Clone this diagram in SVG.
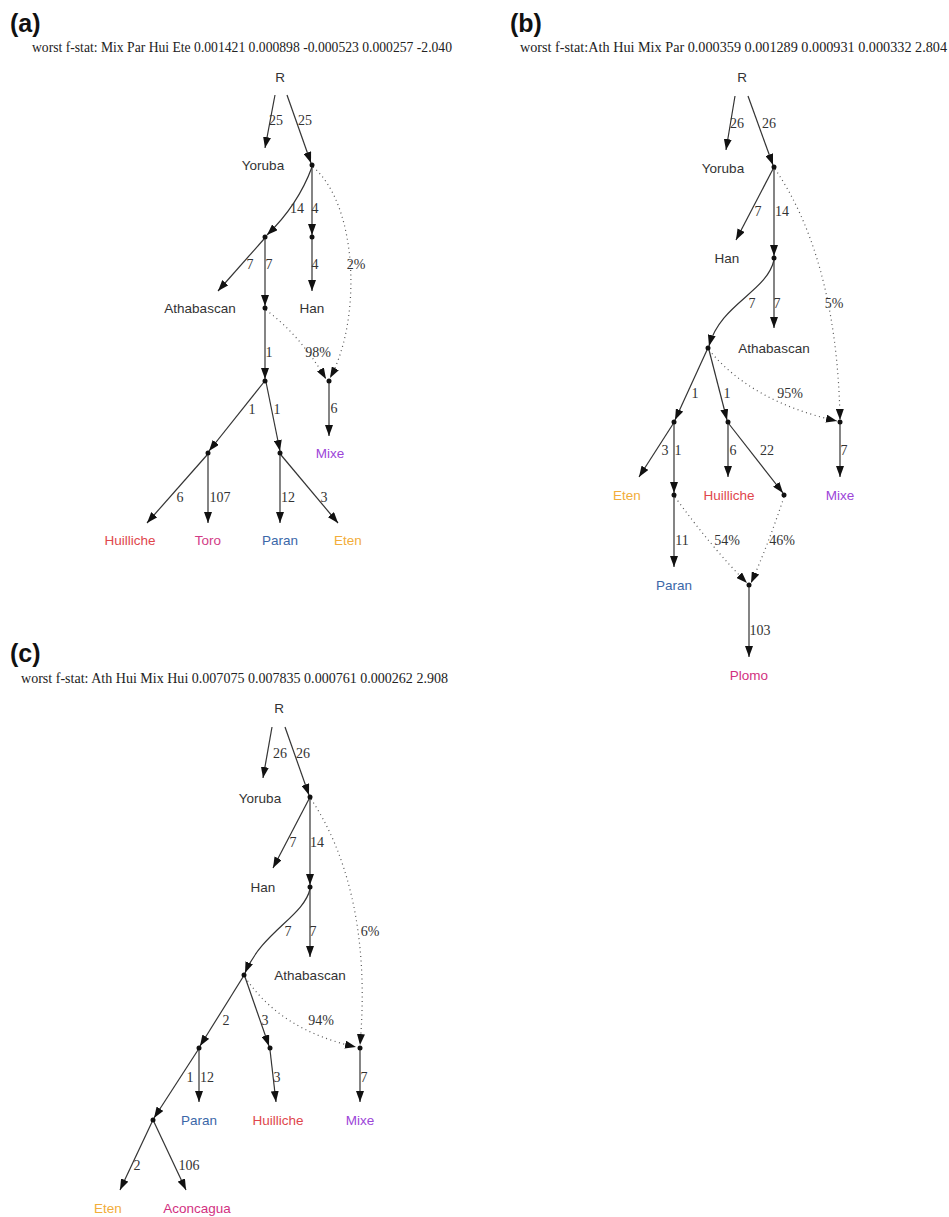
<svg xmlns="http://www.w3.org/2000/svg" width="949" height="1217" viewBox="0 0 949 1217">
<style>
.hd{font-family:"Liberation Sans",Arial,sans-serif;font-weight:bold;font-size:25px;fill:#111}
.st14{font-family:"Liberation Serif","Times New Roman",serif;font-size:14px;fill:#222}
.nl{font-family:"Liberation Sans",Arial,sans-serif;font-size:13.5px;fill:#333;text-anchor:middle}
.el{font-family:"Liberation Serif","Times New Roman",serif;font-size:14px;fill:#333;text-anchor:middle}
.e{fill:none;stroke:#333;stroke-width:1.2;marker-end:url(#ah)}
.d{fill:none;stroke:#555;stroke-width:1.2;stroke-dasharray:1 3.5;marker-end:url(#ah)}
.dot{fill:#111}
.hui{fill:#e0464c}.toro{fill:#d23c86}.par{fill:#3a67a8}.eten{fill:#f2ad3a}.mixe{fill:#9c45d8}.plomo{fill:#d2317f}
</style>
<defs>
<marker id="ah" viewBox="0 0 11 8" refX="11" refY="4" markerWidth="11" markerHeight="8" markerUnits="userSpaceOnUse" orient="auto">
<path d="M0,0L11,4L0,8z" fill="#111"/>
</marker>
</defs>
<rect width="949" height="1217" fill="#fff"/>

<!-- ================= Panel (a) ================= -->
<g id="panel-a-title">
<text class="hd" x="10" y="32">(a)</text>
<text class="st14" x="32" y="52" textLength="420" lengthAdjust="spacingAndGlyphs">worst f-stat: Mix Par Hui Ete 0.001421 0.000898 -0.000523 0.000257 -2.040</text>
</g>
<g id="connectors-a">
<line class="e" x1="275" y1="95" x2="265" y2="148"/>
<line class="e" x1="287" y1="95" x2="311" y2="163"/>
<path class="e" d="M312,167 Q298,205 267,235"/>
<line class="e" x1="312" y1="167" x2="312" y2="235"/>
<line class="e" x1="312" y1="239" x2="312" y2="291"/>
<line class="e" x1="264" y1="239" x2="218" y2="291"/>
<line class="e" x1="265" y1="239" x2="265" y2="306"/>
<line class="e" x1="265" y1="310" x2="265" y2="379"/>
<line class="e" x1="329" y1="383" x2="329" y2="436"/>
<line class="e" x1="264" y1="382" x2="209" y2="451"/>
<line class="e" x1="266" y1="382" x2="280" y2="451"/>
<line class="e" x1="207" y1="455" x2="147" y2="523"/>
<line class="e" x1="208" y1="455" x2="208" y2="523"/>
<line class="e" x1="280" y1="455" x2="280" y2="523"/>
<line class="e" x1="281" y1="455" x2="338" y2="523"/>
<path class="d" d="M313,167 C358,205 362,320 330,378"/>
<path class="d" d="M266,310 Q300,335 326,379"/>
<text class="el" x="276" y="125">25</text>
<text class="el" x="305" y="125">25</text>
<text class="el" x="297" y="213">14</text>
<text class="el" x="315" y="213">4</text>
<text class="el" x="250" y="269">7</text>
<text class="el" x="269" y="269">7</text>
<text class="el" x="315" y="269">4</text>
<text class="el" x="356" y="269">2%</text>
<text class="el" x="269" y="357">1</text>
<text class="el" x="318" y="357">98%</text>
<text class="el" x="334" y="413">6</text>
<text class="el" x="252" y="414">1</text>
<text class="el" x="277" y="414">1</text>
<text class="el" x="180" y="502">6</text>
<text class="el" x="220" y="502">107</text>
<text class="el" x="288" y="502">12</text>
<text class="el" x="324" y="502">3</text>
</g>
<g id="a-R"><text class="nl" x="280" y="82">R</text></g>
<g id="a-Yoruba"><text class="nl" x="263" y="170">Yoruba</text></g>
<g id="a-n1"><circle class="dot" cx="312" cy="165" r="2.5"/></g>
<g id="a-n2"><circle class="dot" cx="265" cy="237" r="2.5"/></g>
<g id="a-n3"><circle class="dot" cx="312" cy="237" r="2.5"/></g>
<g id="a-Athabascan"><text class="nl" x="200" y="313">Athabascan</text></g>
<g id="a-Han"><text class="nl" x="312" y="313">Han</text></g>
<g id="a-n4"><circle class="dot" cx="265" cy="308" r="2.5"/></g>
<g id="a-n5"><circle class="dot" cx="265" cy="381" r="2.5"/></g>
<g id="a-mixnode"><circle class="dot" cx="329" cy="381" r="2.5"/></g>
<g id="a-Mixe"><text class="nl mixe" x="330" y="458">Mixe</text></g>
<g id="a-n6"><circle class="dot" cx="208" cy="453" r="2.5"/></g>
<g id="a-n7"><circle class="dot" cx="280" cy="453" r="2.5"/></g>
<g id="a-Huilliche"><text class="nl hui" x="130" y="545">Huilliche</text></g>
<g id="a-Toro"><text class="nl toro" x="208" y="545">Toro</text></g>
<g id="a-Paran"><text class="nl par" x="280" y="545">Paran</text></g>
<g id="a-Eten"><text class="nl eten" x="348" y="545">Eten</text></g>

<!-- ================= Panel (b) ================= -->
<g id="panel-b-title">
<text class="hd" x="510" y="32">(b)</text>
<text class="st14" x="520" y="52" textLength="427" lengthAdjust="spacingAndGlyphs">worst f-stat:Ath Hui Mix Par 0.000359 0.001289 0.000931 0.000332 2.804</text>
</g>
<g id="connectors-b">
<line class="e" x1="735" y1="96" x2="726" y2="150"/>
<line class="e" x1="748" y1="96" x2="773" y2="165"/>
<line class="e" x1="773" y1="169" x2="736" y2="240"/>
<line class="e" x1="774" y1="169" x2="774" y2="256"/>
<line class="e" x1="774" y1="260" x2="774" y2="328"/>
<path class="e" d="M774,260 C767,292 720,304 709,346"/>
<line class="e" x1="707" y1="350" x2="675" y2="420"/>
<line class="e" x1="709" y1="350" x2="727" y2="420"/>
<line class="e" x1="840" y1="424" x2="840" y2="477"/>
<line class="e" x1="673" y1="424" x2="639" y2="477"/>
<line class="e" x1="674" y1="424" x2="674" y2="493"/>
<line class="e" x1="728" y1="424" x2="728" y2="477"/>
<line class="e" x1="729" y1="424" x2="783" y2="493"/>
<line class="e" x1="674" y1="497" x2="674" y2="567"/>
<line class="e" x1="749" y1="587" x2="749" y2="657"/>
<path class="d" d="M775,169 C810,220 838,300 840,420"/>
<path class="d" d="M709,350 Q752,402 837,421"/>
<path class="d" d="M675,497 Q712,548 747,583"/>
<path class="d" d="M784,497 Q768,545 751,583"/>
<text class="el" x="737" y="128">26</text>
<text class="el" x="769" y="128">26</text>
<text class="el" x="758" y="216">7</text>
<text class="el" x="782" y="216">14</text>
<text class="el" x="752" y="308">7</text>
<text class="el" x="777" y="308">7</text>
<text class="el" x="834" y="308">5%</text>
<text class="el" x="695" y="398">1</text>
<text class="el" x="727" y="398">1</text>
<text class="el" x="790" y="398">95%</text>
<text class="el" x="665" y="455">3</text>
<text class="el" x="678" y="455">1</text>
<text class="el" x="733" y="455">6</text>
<text class="el" x="767" y="455">22</text>
<text class="el" x="844" y="455">7</text>
<text class="el" x="682" y="545">11</text>
<text class="el" x="727" y="545">54%</text>
<text class="el" x="782" y="545">46%</text>
<text class="el" x="760" y="635">103</text>
</g>
<g id="b-R"><text class="nl" x="742" y="82">R</text></g>
<g id="b-Yoruba"><text class="nl" x="723" y="173">Yoruba</text></g>
<g id="b-n1"><circle class="dot" cx="774" cy="167" r="2.5"/></g>
<g id="b-Han"><text class="nl" x="727" y="263">Han</text></g>
<g id="b-n2"><circle class="dot" cx="774" cy="258" r="2.5"/></g>
<g id="b-Athabascan"><text class="nl" x="774" y="353">Athabascan</text></g>
<g id="b-n3"><circle class="dot" cx="708" cy="348" r="2.5"/></g>
<g id="b-n4"><circle class="dot" cx="674" cy="422" r="2.5"/></g>
<g id="b-n5"><circle class="dot" cx="728" cy="422" r="2.5"/></g>
<g id="b-mixnode"><circle class="dot" cx="840" cy="422" r="2.5"/></g>
<g id="b-Eten"><text class="nl eten" x="627" y="500">Eten</text></g>
<g id="b-Huilliche"><text class="nl hui" x="729" y="500">Huilliche</text></g>
<g id="b-Mixe"><text class="nl mixe" x="840" y="500">Mixe</text></g>
<g id="b-n6"><circle class="dot" cx="674" cy="495" r="2.5"/></g>
<g id="b-n7"><circle class="dot" cx="784" cy="495" r="2.5"/></g>
<g id="b-Paran"><text class="nl par" x="674" y="590">Paran</text></g>
<g id="b-plomonode"><circle class="dot" cx="749" cy="585" r="2.5"/></g>
<g id="b-Plomo"><text class="nl plomo" x="749" y="680">Plomo</text></g>

<!-- ================= Panel (c) ================= -->
<g id="panel-c-title">
<text class="hd" x="10" y="662">(c)</text>
<text class="st14" x="21" y="683" textLength="427" lengthAdjust="spacingAndGlyphs">worst f-stat: Ath Hui Mix Hui 0.007075 0.007835 0.000761 0.000262 2.908</text>
</g>
<g id="connectors-c">
<line class="e" x1="272" y1="727" x2="263" y2="778"/>
<line class="e" x1="285" y1="727" x2="309" y2="795"/>
<line class="e" x1="309" y1="799" x2="273" y2="868"/>
<line class="e" x1="310" y1="799" x2="310" y2="885"/>
<line class="e" x1="310" y1="889" x2="310" y2="957"/>
<path class="e" d="M310,889 C304,916 262,932 245,973"/>
<line class="e" x1="243" y1="977" x2="200" y2="1046"/>
<line class="e" x1="245" y1="977" x2="269" y2="1046"/>
<line class="e" x1="360" y1="1050" x2="360" y2="1102"/>
<line class="e" x1="199" y1="1050" x2="199" y2="1102"/>
<line class="e" x1="198" y1="1050" x2="154" y2="1118"/>
<line class="e" x1="270" y1="1050" x2="276" y2="1102"/>
<line class="e" x1="152" y1="1122" x2="120" y2="1190"/>
<line class="e" x1="154" y1="1122" x2="186" y2="1190"/>
<path class="d" d="M311,799 C345,850 370,930 360,1045"/>
<path class="d" d="M245,977 Q280,1030 356,1047"/>
<text class="el" x="280" y="758">26</text>
<text class="el" x="303" y="758">26</text>
<text class="el" x="293" y="847">7</text>
<text class="el" x="317" y="847">14</text>
<text class="el" x="288" y="936">7</text>
<text class="el" x="313" y="936">7</text>
<text class="el" x="370" y="936">6%</text>
<text class="el" x="226" y="1025">2</text>
<text class="el" x="265" y="1025">3</text>
<text class="el" x="321" y="1025">94%</text>
<text class="el" x="190" y="1082">1</text>
<text class="el" x="207" y="1082">12</text>
<text class="el" x="277" y="1082">3</text>
<text class="el" x="364" y="1082">7</text>
<text class="el" x="137" y="1170">2</text>
<text class="el" x="189" y="1170">106</text>
</g>
<g id="c-R"><text class="nl" x="279" y="713">R</text></g>
<g id="c-Yoruba"><text class="nl" x="260" y="803">Yoruba</text></g>
<g id="c-n1"><circle class="dot" cx="310" cy="797" r="2.5"/></g>
<g id="c-Han"><text class="nl" x="263" y="892">Han</text></g>
<g id="c-n2"><circle class="dot" cx="310" cy="887" r="2.5"/></g>
<g id="c-Athabascan"><text class="nl" x="310" y="980">Athabascan</text></g>
<g id="c-n3"><circle class="dot" cx="244" cy="975" r="2.5"/></g>
<g id="c-n4"><circle class="dot" cx="199" cy="1048" r="2.5"/></g>
<g id="c-n5"><circle class="dot" cx="270" cy="1048" r="2.5"/></g>
<g id="c-mixnode"><circle class="dot" cx="360" cy="1048" r="2.5"/></g>
<g id="c-Paran"><text class="nl par" x="199" y="1125">Paran</text></g>
<g id="c-Huilliche"><text class="nl hui" x="278" y="1125">Huilliche</text></g>
<g id="c-Mixe"><text class="nl mixe" x="360" y="1125">Mixe</text></g>
<g id="c-n6"><circle class="dot" cx="153" cy="1120" r="2.5"/></g>
<g id="c-Eten"><text class="nl eten" x="108" y="1213">Eten</text></g>
<g id="c-Aconcagua"><text class="nl plomo" x="197" y="1213">Aconcagua</text></g>
</svg>
